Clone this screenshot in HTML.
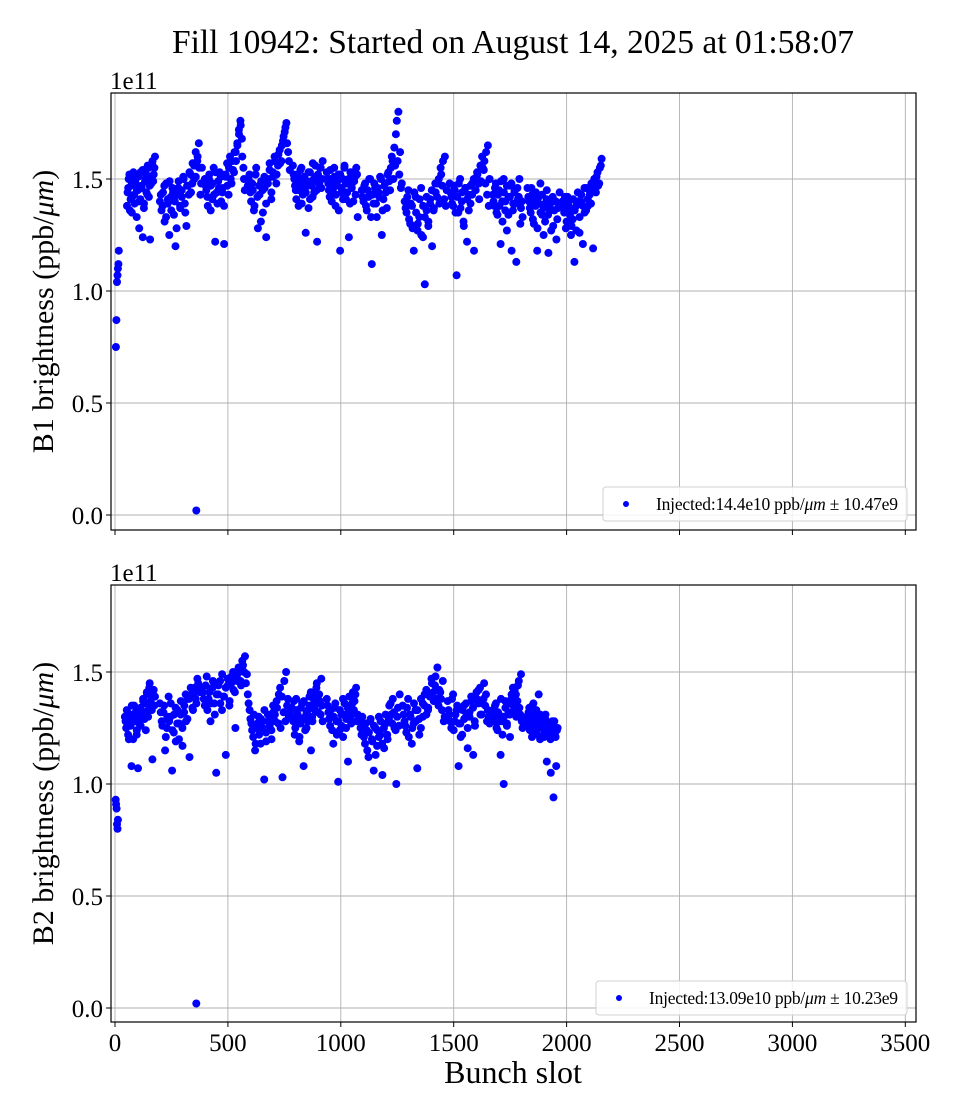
<!DOCTYPE html>
<html><head><meta charset="utf-8"><style>
html,body{margin:0;padding:0;background:#fff;}
svg{display:block;font-family:"Liberation Serif",serif;}
</style></head><body>
<svg id="chart" width="960" height="1120" xmlns="http://www.w3.org/2000/svg">
<text x="513" y="53" font-size="33.5" text-anchor="middle">Fill 10942: Started on August 14, 2025 at 01:58:07</text>
</svg>
<script>
const xTicks = [0,500,1000,1500,2000,2500,3000,3500];
const yTicks = [0.0,0.5,1.0,1.5];
const yTickLabels = ["0.0","0.5","1.0","1.5"];
// B1 data (values in 1e9 units)
const b1Early = [75,87,104,107,110,112,118];
const b1EarlySlots = [4,6,9,11,13,15,17];
const b1Outlier = [{slot:360,v:2}];
const b1TrainStart = [53,199,398,588,788,938,1093,1283,1482,1673,1827,1982];
const b1TrainEnd =   [177,385,575,774,920,1075,1270,1469,1659,1805,1969,2155];
const b1Values = [
[138,146,152,141,135,148,143,150,133,145,140,153,147,124,139,150,144,156,142,123,148,158,152,160],
[140,136,144,131,148,139,125,142,146,134,120,143,149,137,145,151,139,129,147,153,144,157,150,162,158,166,143,155],
[150,145,138,152,147,141,155,122,144,149,153,140,146,121,151,157,143,160,148,154,162,158,165,172,176,168,155,145],
[147,152,140,145,138,155,128,143,149,135,146,124,150,157,141,153,160,148,156,163,158,167,171,175,162,154],
[156,150,145,152,138,148,155,143,150,126,147,153,141,149,157,144,151,122,148,155,146,158],
[153,148,142,150,145,155,138,147,152,118,144,150,156,141,148,124,153,146,140,151,155,133],
[145,140,148,136,142,150,112,139,146,133,144,151,125,141,148,137,153,145,160,150,156,176,180,162,148],
[140,135,145,130,138,118,142,127,133,146,124,103,136,131,141,120,137,144,148,139,152,158,160,145],
[148,142,138,145,107,135,150,140,131,146,122,143,139,148,118,145,152,141,149,155,158,162,165,150],
[143,138,148,134,145,121,140,150,136,127,142,147,118,139,145,113,141,150,137,133],
[146,140,135,143,130,138,118,142,148,134,125,139,145,117,136,141,129,140,123,137,144],
[140,135,128,142,137,125,132,113,138,144,126,140,121,135,146,138,143,148,119,145,151,147,155,159]
];
const b1ValuesAlt = [
[144,150,136,147,142,153,139,148,145,151,128,141,146,154,137,149,152,143,155,147,151,157,149,155],
[143,138,147,133,141,149,136,144,140,128,146,138,142,150,135,147,143,152,148,156,151,160,155,148],
[147,142,150,136,148,143,153,139,146,151,144,138,152,147,155,150,158,153,162,166,170,174,160,150],
[150,144,148,136,152,142,147,131,145,151,139,148,154,144,151,158,152,161,157,165,169,173,166,158],
[152,147,141,150,145,154,139,146,151,144,149,137,153,147,142,150,156,145,152,148,155,150],
[150,145,154,140,147,151,143,149,136,152,146,141,155,148,144,150,139,147,153,149,143,152],
[142,147,138,145,150,133,143,148,139,146,142,150,136,147,144,152,149,155,158,164,170,158,152,146],
[137,142,132,139,128,144,135,130,141,125,138,133,142,129,139,145,136,148,142,150,155,147,141,138],
[144,139,147,135,142,148,137,144,129,146,141,136,147,143,150,145,153,148,156,160,154,148,143,138],
[140,146,135,143,138,149,131,144,140,147,134,142,148,136,144,139,146,142,130,140],
[142,137,146,132,140,144,128,139,135,143,137,131,141,134,138,127,142,136,140,132,139],
[137,142,131,139,134,129,141,136,127,140,133,143,138,146,136,141,145,139,147,150,144,153,148,156]
];
// B2 data
const b2Early = [93,91,89,82,80,84];
const b2EarlySlots = [3,5,7,9,11,13];
const b2Outlier = [{slot:360,v:2}];
const b2TrainStart = [44,199,389,588,783,938,1084,1274,1473,1673,1823];
const b2TrainEnd =   [177,376,584,774,920,1075,1261,1460,1659,1805,1960];
const b2Values = [
[130,125,132,120,127,108,131,135,128,122,107,133,126,130,137,129,124,140,133,145,136,111,142,139],
[136,128,132,115,125,139,130,106,123,134,127,120,131,117,135,128,138,112,140,133,143,136,145,141],
[141,135,148,138,128,143,136,105,140,146,133,139,113,144,137,148,142,125,146,150,144,153,157,149],
[140,133,127,121,115,125,130,118,128,102,123,131,126,120,132,128,134,140,125,103,146,150,138,132],
[134,128,122,138,131,119,127,136,108,130,125,133,139,115,128,136,141,145,132,137,147,128],
[138,132,126,130,118,134,128,101,124,131,121,136,129,110,133,127,141,137,143,131],
[128,122,126,118,124,112,128,120,106,125,117,130,122,104,116,127,120,135,131,138,125,100,134,140],
[135,128,123,138,131,118,127,133,107,129,125,136,140,131,134,140,145,137,148,152,142,138,146,130],
[137,131,125,140,128,133,108,127,122,135,130,116,132,137,113,126,138,142,131,136,145,140,133,127],
[133,128,136,124,131,113,128,100,137,126,132,121,140,135,142,130,144,134,149,125],
[130,126,134,128,121,136,124,132,127,140,120,129,125,122,131,110,126,124,105,128,94,122,108,125]
];
const b2ValuesAlt = [
[128,133,122,130,126,135,120,129,132,124,131,127,134,129,138,132,136,141,130,143,137,133,140,135],
[132,126,135,121,130,128,136,124,131,119,133,127,137,125,132,140,129,138,143,134,141,138,147,143],
[138,144,133,141,136,146,131,140,144,136,149,139,143,147,135,145,150,141,148,152,146,155,150,145],
[136,129,124,131,118,127,122,129,125,133,119,128,130,124,135,131,137,127,143,139,132,128,135,130],
[130,137,125,133,128,121,134,129,137,124,132,128,135,141,130,138,133,143,136,140,131,135],
[135,129,133,124,130,136,122,128,133,126,138,131,125,134,139,130,136,133,140,128],
[125,130,121,127,115,123,129,119,126,113,124,121,128,118,125,131,122,129,136,127,132,124,130,126],
[131,126,134,121,130,125,136,128,133,122,138,130,135,142,133,139,147,141,144,138,135,141,133,128],
[133,128,138,124,131,135,127,121,133,129,136,125,130,139,134,128,141,136,143,131,138,135,128,130],
[130,135,125,132,128,138,122,130,134,127,136,131,138,143,133,140,137,146,131,128],
[128,132,124,130,135,126,129,133,122,128,131,125,127,121,129,124,122,127,120,126,123,128,121,124]
];
const b1Legend = "Injected:14.4e10 ppb/";
const b1Legend2 = " ± 10.47e9";
const b2Legend = "Injected:13.09e10 ppb/";
const b2Legend2 = " ± 10.23e9";

const NS="http://www.w3.org/2000/svg";
const svg=document.getElementById('chart');
function mk(tag,attrs,parent){const e=document.createElementNS(NS,tag);for(const k in attrs)e.setAttribute(k,attrs[k]);(parent||svg).appendChild(e);return e;}
const L=111,R=916;
const xScale=s=>115+s*0.2258;

function panel(top,bottom,y0px,early,earlySlots,outliers,starts,ends,values,valuesAlt,label,lg1,lg2,lgBox,showX){
  const yScale=v=>y0px-v*224; // v in 1e11
  const g=mk('g',{});
  
  
  xTicks.forEach(t=>{const l=mk('line',{x1:xScale(t),x2:xScale(t),y1:top,y2:bottom,stroke:'#b0b0b0','stroke-width':0.9},g);
    
    const tk=mk('line',{x1:xScale(t),x2:xScale(t),y1:bottom,y2:bottom+5,stroke:'#000','stroke-width':1},g);
    
    if(showX){const tx=mk('text',{x:xScale(t),y:bottom+29,'font-size':25,'text-anchor':'middle'},g);tx.textContent=String(t);
      }
  });
  yTicks.forEach((t,i)=>{const y=yScale(t);const l=mk('line',{x1:L,x2:R,y1:y,y2:y,stroke:'#b0b0b0','stroke-width':0.9},g);
    
    const tk=mk('line',{x1:L-5,x2:L,y1:y,y2:y,stroke:'#000','stroke-width':1},g);
    
    const tx=mk('text',{x:L-8,y:y+9,'font-size':25,'text-anchor':'end'},g);tx.textContent=yTickLabels[i];
    
  });
  const ex=mk('text',{x:110,y:top-4,'font-size':25},g);ex.textContent='1e11';
  
  const yl=mk('text',{x:0,y:0,'font-size':30,'text-anchor':'middle',transform:`translate(53,${(top+bottom)/2}) rotate(-90)`},g);
  yl.innerHTML=label+' (ppb/<tspan font-style="italic">μm</tspan>)';
  
  const pts=mk('g',{fill:'#0000ff'},g);
  
  function dot(s,v){const c=mk('circle',{cx:xScale(s).toFixed(1),cy:yScale(v/100).toFixed(1),r:4},pts);
    }
  early.forEach((v,i)=>dot(earlySlots[i],v));
  outliers.forEach(o=>dot(o.slot,o.v));
  values.forEach((arr,ti)=>{
    const span=ends[ti]-starts[ti];
    arr.forEach((v,i)=>dot(starts[ti]+span*i/(arr.length-1),v));
    const alt=valuesAlt[ti];
    alt.forEach((v,i)=>dot(starts[ti]+span*(i+0.5)/alt.length,v));
  });
  const fr=mk('rect',{x:L,y:top,width:R-L,height:bottom-top,fill:'none',stroke:'#000','stroke-width':1.2},g);
  
  const lg=mk('g',{},g);
  const bx=mk('rect',{x:lgBox[0],y:lgBox[1],width:lgBox[2],height:34,rx:3,fill:'#fff','fill-opacity':0.85,stroke:'#d0d0d0'},lg);
  
  const m=mk('circle',{cx:lgBox[0]+23,cy:lgBox[1]+17,r:3,fill:'#0000ff'},lg);
  
  const t=mk('text',{x:lgBox[0]+53,y:lgBox[1]+23,'font-size':17.5,textLength:lgBox[2]-62},lg);
  t.innerHTML=lg1+'<tspan font-style="italic">μm</tspan>'+lg2;
  
}
panel(93,530,515,b1Early,b1EarlySlots,b1Outlier,b1TrainStart,b1TrainEnd,b1Values,b1ValuesAlt,'B1 brightness',b1Legend,b1Legend2,[603,487,304],false);
panel(585,1022,1008,b2Early,b2EarlySlots,b2Outlier,b2TrainStart,b2TrainEnd,b2Values,b2ValuesAlt,'B2 brightness',b2Legend,b2Legend2,[596,981,311],true);
const xt=mk('text',{x:513,y:1083,'font-size':32,'text-anchor':'middle'});xt.textContent='Bunch slot';


</script>
</body></html>
